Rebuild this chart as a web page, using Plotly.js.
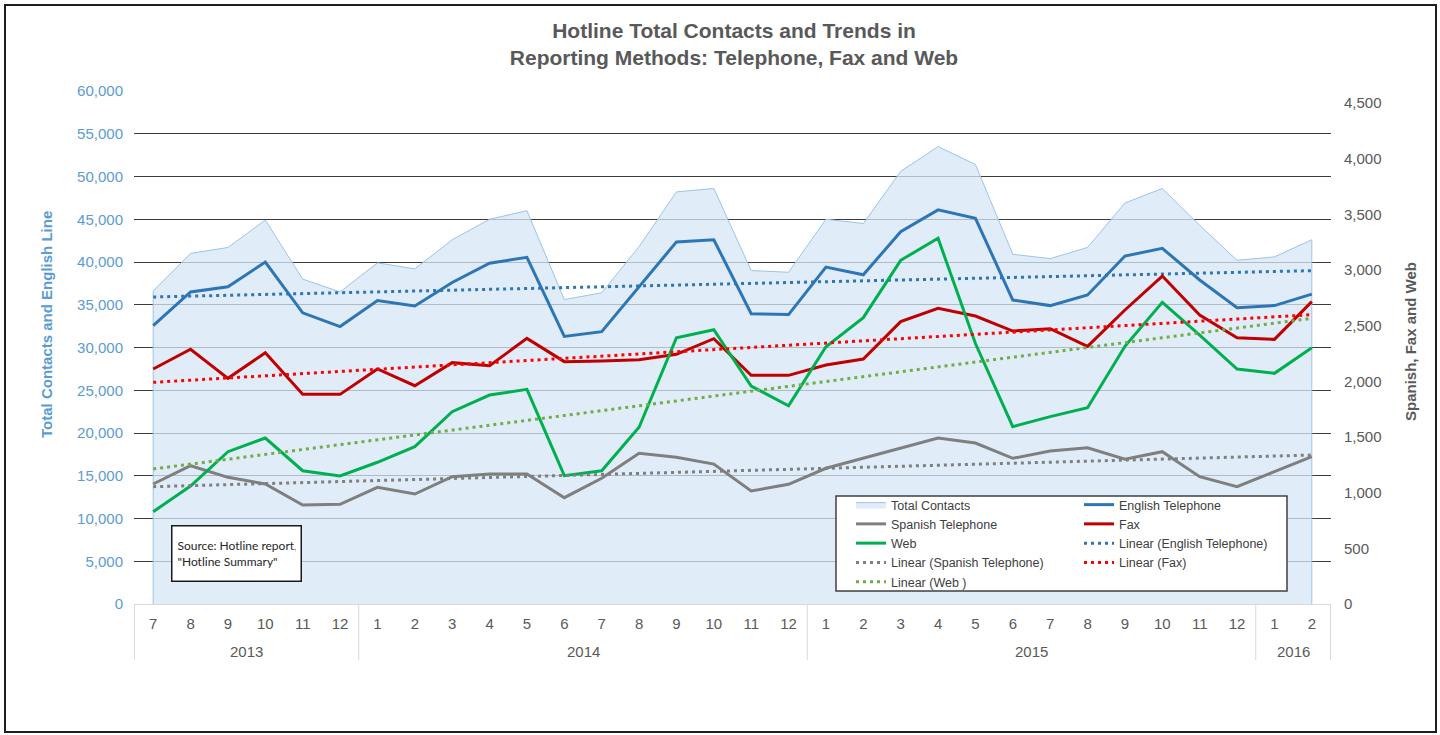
<!DOCTYPE html>
<html>
<head>
<meta charset="utf-8">
<script src="https://cdn.plot.ly/plotly-3.0.1.min.js"></script>
<style>
  html, body { margin: 0; padding: 0; background: #fff; }
  #wrap { position: relative; width: 1440px; height: 735px; }
  #chart { position: absolute; left: 0; top: 0; width: 1440px; height: 735px; }
  #frame { position: absolute; left: 4px; top: 4px; width: 1429px; height: 725px;
           border: 2px solid #1e1e1e; pointer-events: none; }
</style>
</head>
<body>
<div id="wrap">
  <div id="chart"></div>
  <div id="frame"></div>
</div>
<script>
// ---- Data ----
const years = ['2013','2013','2013','2013','2013','2013',
               '2014','2014','2014','2014','2014','2014','2014','2014','2014','2014','2014','2014',
               '2015','2015','2015','2015','2015','2015','2015','2015','2015','2015','2015','2015',
               '2016','2016'];
const months = ['7','8','9','10','11','12',
                '1','2','3','4','5','6','7','8','9','10','11','12',
                '1','2','3','4','5','6','7','8','9','10','11','12',
                '1','2'];

// Left axis
const totalContacts = [36600, 41000, 41700, 44900, 38000, 36500,
                       39900, 39200, 42600, 45000, 46000, 35600, 36400, 41800, 48200, 48600, 39000, 38800,
                       45000, 44500, 50600, 53500, 51400, 40900, 40400, 41700, 46900, 48600, 44300, 40200,
                       40600, 42600];
const englishTelephone = [32550, 36500, 37100, 40000, 34050, 32450,
                          35500, 34850, 37600, 39850, 40550, 31300, 31850, 37100, 42350, 42600, 33950, 33850,
                          39400, 38500, 43550, 46100, 45100, 35550, 34900, 36150, 40700, 41600, 37900, 34650,
                          34900, 36250];
// Right axis
const spanishTelephone = [1078, 1242, 1138, 1078, 889, 895,
                          1048, 988, 1144, 1168, 1168, 955, 1129, 1354, 1318, 1257, 1015, 1075,
                          1219, 1309, 1404, 1491, 1446, 1309, 1374, 1404, 1300, 1368, 1144, 1054,
                          1189, 1323];
const fax = [2111, 2288, 2027, 2257, 1883, 1883,
             2111, 1961, 2168, 2141, 2386, 2177, 2183, 2195, 2243, 2383, 2054, 2054,
             2147, 2200, 2536, 2656, 2587, 2452, 2473, 2314, 2641, 2946, 2596, 2392,
             2377, 2716];
const web = [829, 1060, 1368, 1491, 1197, 1150,
             1273, 1413, 1727, 1877, 1928, 1153, 1197, 1587, 2392, 2464, 1958, 1781,
             2311, 2572, 3087, 3285, 2340, 1593, 1683, 1763, 2315, 2710, 2416, 2111,
             2072, 2302];

// Linear trend lines: value at first and last month
const trendEnglish = [35910, 38990];
const trendSpanish = [1054, 1338];
const trendFax = [1991, 2599];
const trendWeb = [1213, 2566];

// ---- Build ----
const n = months.length;
const X = years.map((y, i) => y + '-' + months[i]);   // unique category keys
const Xends = [X[0], X[n - 1]];
const FONT = 'Liberation Sans, Arial, sans-serif';
const dotDash = '3px,4px';

const traces = [
  { name: 'Total Contacts', x: X, y: totalContacts, type: 'scatter', mode: 'lines',
    fill: 'tozeroy', fillcolor: 'rgba(214,231,246,0.75)',
    line: { color: '#9dc3e6', width: 1 }, legend: 'legend', yaxis: 'y' },
  // vertical edges of the area
  { x: [X[0], X[0]], y: [0, totalContacts[0]], type: 'scatter', mode: 'lines',
    line: { color: '#9dc3e6', width: 1 }, showlegend: false, yaxis: 'y' },
  { x: [X[n-1], X[n-1]], y: [0, totalContacts[n-1]], type: 'scatter', mode: 'lines',
    line: { color: '#9dc3e6', width: 1 }, showlegend: false, yaxis: 'y' },
  { name: 'English Telephone', x: X, y: englishTelephone, type: 'scatter', mode: 'lines',
    line: { color: '#2e75b6', width: 3 }, legend: 'legend2', yaxis: 'y' },
  { name: 'Spanish Telephone', x: X, y: spanishTelephone, type: 'scatter', mode: 'lines',
    line: { color: '#7f7f7f', width: 3 }, legend: 'legend', yaxis: 'y2' },
  { name: 'Fax', x: X, y: fax, type: 'scatter', mode: 'lines',
    line: { color: '#c00000', width: 3 }, legend: 'legend2', yaxis: 'y2' },
  { name: 'Web', x: X, y: web, type: 'scatter', mode: 'lines',
    line: { color: '#00b050', width: 3 }, legend: 'legend', yaxis: 'y2' },
  { name: 'Linear (English Telephone)', x: Xends, y: trendEnglish, type: 'scatter', mode: 'lines',
    line: { color: '#2e75b6', width: 3, dash: dotDash }, legend: 'legend2', yaxis: 'y' },
  { name: 'Linear (Spanish Telephone)', x: Xends, y: trendSpanish, type: 'scatter', mode: 'lines',
    line: { color: '#7f7f7f', width: 3, dash: dotDash }, legend: 'legend', yaxis: 'y2' },
  { name: 'Linear (Fax)', x: Xends, y: trendFax, type: 'scatter', mode: 'lines',
    line: { color: '#ff0000', width: 3, dash: dotDash }, legend: 'legend2', yaxis: 'y2' },
  { name: 'Linear (Web )', x: Xends, y: trendWeb, type: 'scatter', mode: 'lines',
    line: { color: '#70ad47', width: 3, dash: dotDash }, legend: 'legend', yaxis: 'y2' }
];

// plot area geometry (pixels)
const L = 134, R = 1331, T = 91, B = 604;
const W = R - L, H = B - T;
const px = v => (v - L) / W;
const py = v => (B - v) / H;

// year groups (from the years array): label centres and divider positions
const yearGroups = [];
years.forEach((y, i) => {
  if (i === 0 || y !== years[i - 1]) yearGroups.push({ year: y, start: i, end: i });
  else yearGroups[yearGroups.length - 1].end = i;
});
const dividerShapes = [];
yearGroups.forEach((g, k) => {
  dividerShapes.push({ type: 'line', xref: 'x', yref: 'paper', x0: g.start - 0.5, x1: g.start - 0.5,
    y0: 0, y1: py(660), line: { color: '#d9d9d9', width: 1 } });
  if (k === yearGroups.length - 1)
    dividerShapes.push({ type: 'line', xref: 'x', yref: 'paper', x0: g.end + 0.5, x1: g.end + 0.5,
      y0: 0, y1: py(660), line: { color: '#d9d9d9', width: 1 } });
});
const yearAnnotations = yearGroups.map(g => ({
  xref: 'x', yref: 'paper', x: (g.start + g.end) / 2, y: py(651), xanchor: 'center', yanchor: 'middle',
  text: g.year, showarrow: false, font: { family: FONT, size: 15, color: '#595959' }
}));

const legendCommon = {
  bgcolor: 'rgba(0,0,0,0)', borderwidth: 0,
  font: { family: FONT, size: 12.5, color: '#404040' },
  xanchor: 'left', yanchor: 'top', orientation: 'v', traceorder: 'normal',
  itemclick: false, itemdoubleclick: false
};

const layout = {
  width: 1440, height: 735,
  margin: { l: L, r: 1440 - R, t: T, b: 735 - B, pad: 0 },
  paper_bgcolor: '#ffffff', plot_bgcolor: '#ffffff',
  hovermode: false,
  font: { family: FONT, color: '#595959' },
  title: {
    text: 'Hotline Total Contacts and Trends in<br>Reporting Methods: Telephone, Fax and Web',
    font: { family: FONT, size: 21, color: '#595959', weight: 'bold' },
    x: 734 / 1440, xanchor: 'center', xref: 'container',
    y: 1 - 38 / 735, yanchor: 'top', yref: 'container'
  },
  xaxis: {
    type: 'category',
    tickvals: X, ticktext: months,
    showgrid: false, zeroline: false,
    showline: true, linecolor: '#d9d9d9', linewidth: 1,
    tickfont: { family: FONT, size: 15, color: '#595959' },
    ticks: '', ticklabelstandoff: 6
  },
  yaxis: {
    range: [0, 60000], dtick: 5000, tick0: 0, tickformat: ',d',
    showgrid: true, gridcolor: '#3c3c3c', gridwidth: 1,
    zeroline: false, showline: false, ticks: '',
    tickfont: { family: FONT, size: 15, color: '#5b9bd5' },
    ticklabelstandoff: 10
  },
  yaxis2: {
    overlaying: 'y', side: 'right',
    range: [0, 4608], dtick: 500, tick0: 0, tickformat: ',d',
    showgrid: false, zeroline: false, showline: false, ticks: '',
    tickfont: { family: FONT, size: 15, color: '#595959' },
    ticklabelstandoff: 12
  },
  legend: Object.assign({}, legendCommon, { x: px(851), y: py(490) }),
  legend2: Object.assign({}, legendCommon, { x: px(1079), y: py(490) }),
  shapes: [
    { type: 'rect', xref: 'paper', yref: 'paper', layer: 'above',
      x0: px(836), x1: px(1287), y0: py(591), y1: py(496),
      fillcolor: '#ffffff', line: { color: '#404040', width: 1.5 } }
  ].concat(dividerShapes),
  annotations: [
    { xref: 'paper', yref: 'paper', x: px(236), y: py(553.5), xanchor: 'center', yanchor: 'middle',
      text: 'Source: Hotline report,<br>"Hotline Summary"', showarrow: false, align: 'left',
      width: 118, height: 44, borderpad: 5, borderwidth: 1.5, bordercolor: '#1a1a1a', bgcolor: '#ffffff',
      font: { family: 'Lato, Carlito, sans-serif', size: 12, color: '#262626' } },
    { xref: 'paper', yref: 'paper', x: px(46), y: py(325), xanchor: 'center', yanchor: 'middle',
      text: 'Total Contacts and English Line', showarrow: false, textangle: -90,
      font: { family: FONT, size: 15, color: '#5b9bd5', weight: 'bold' } },
    { xref: 'paper', yref: 'paper', x: px(1410), y: py(342), xanchor: 'center', yanchor: 'middle',
      text: 'Spanish, Fax and Web', showarrow: false, textangle: -90,
      font: { family: FONT, size: 15, color: '#595959', weight: 'bold' } }
  ].concat(yearAnnotations)
};

Plotly.newPlot('chart', traces, layout, { staticPlot: true, displayModeBar: false });
</script>
</body>
</html>
